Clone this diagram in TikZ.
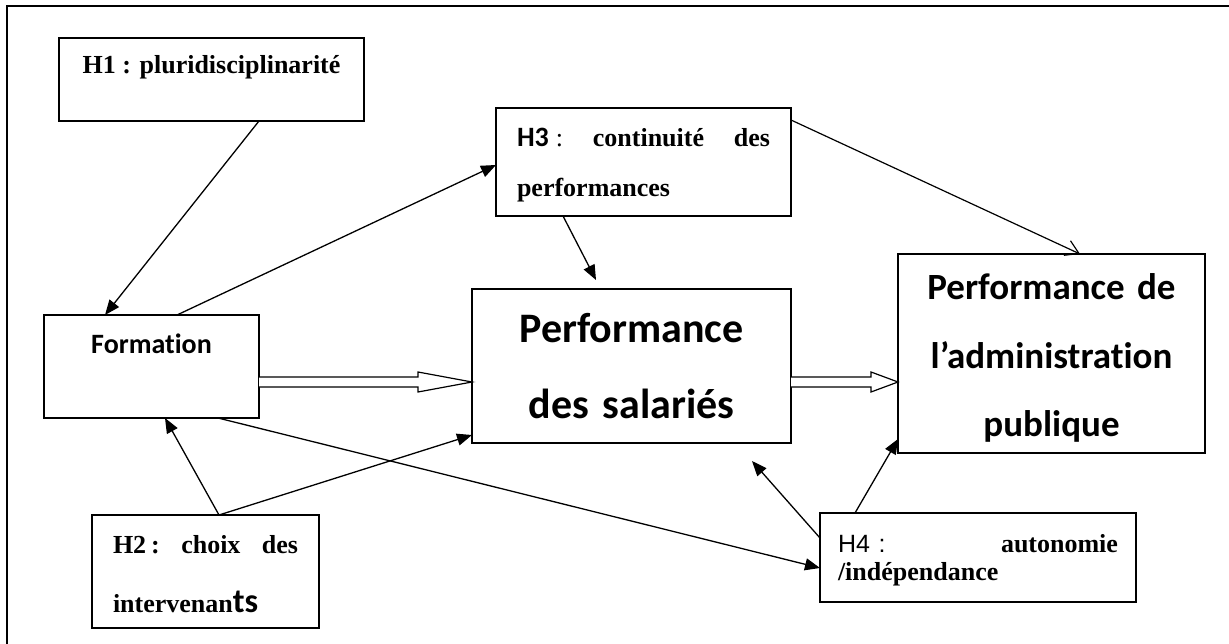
\documentclass[tikz,border=0pt]{standalone}
\usepackage{fontspec}
\setmainfont{Liberation Serif}
\newfontfamily\calibri[Ligatures=CommonOff]{Carlito}
\newfontfamily\arialf{Liberation Sans}
\usetikzlibrary{arrows.meta,calc}

\begin{document}
\begin{tikzpicture}[
  x=1pt,y=-1pt,
  box/.style={draw,line width=1.4pt,inner sep=0pt,outer sep=0pt},
  hyp/.style={box,font=\bfseries\fontsize{26}{#1}\selectfont},
  main/.style={box,align=center,font=\calibri\bfseries\fontsize{#1}{#1}\selectfont},
  arr/.style={line width=1.3pt,-{Triangle[length=15pt,width=12pt]}},
  barb/.style={line width=1.2pt,-{Straight Barb[length=13pt,width=16pt]}},
  hollow/.style={line width=1.2pt,fill=white,line join=miter}
]
\useasboundingbox (0,0) rectangle (1229,644);
\draw[line width=2pt] (1229,6) -- (7,6) -- (7,644);

\node[hyp=30,minimum width=305pt,text height=36pt,text depth=47pt]
  (h1) at (211.5,79.5) {H1 : pluridisciplinarité};
\node[hyp=50,text width=253pt,minimum width=295pt,align=left,
  text height=39pt,text depth=69pt] (h3) at (643.5,162)
  {\hbox to 253pt{{\calibri\fontsize{28}{50}\selectfont H3}\hspace{7pt}{\mdseries :}\hfill
  continuité\hfill des}\\performances};
\node[main=28,minimum width=215pt,text height=38pt,text depth=65pt]
  (form) at (151.5,366.5) {Formation};
\node[main=42,text width=319pt,text height=53pt,text depth=101pt,
  font=\calibri\bfseries\fontsize{42}{76}\selectfont]
  (sal) at (631.5,366) {Performance\\des salariés};
\node[main=37,text width=307pt,text height=46pt,text depth=153pt,
  font=\calibri\bfseries\fontsize{37}{68.5}\selectfont]
  (adm) at (1051.5,353.5) {Performance de\\l’administration\\publique};
\node[hyp=59,text width=185pt,minimum width=227pt,align=left,
  text height=38pt,text depth=75pt] (h2) at (205.5,571.5)
  {\hbox to 185pt{H2\hspace{5pt}:\hfill choix\hfill des}\\
  intervenan{\calibri\fontsize{34}{59}\selectfont ts}};
\node[hyp=28,text width=280pt,minimum width=316pt,align=left,
  text height=39pt,text depth=50pt] (h4) at (978,557.5)
  {\hbox to 280pt{{\arialf\mdseries\fontsize{25}{28}\selectfont H4 :}\hfill
  autonomie}\\/indépendance};

\draw[arr] ($(h1.south)+(47.5,0)$) -- ($(form.north)+(-46.5,0)$);
\draw[arr] ($(form.north)+(25.5,0)$) -- ($(h3.west)+(0,3)$);
\draw[arr] ($(h3.south)+(-80.5,0)$) -- ($(sal.north)+(-35.5,-9)$);
\draw[barb] ($(h3.north east)+(0,12)$) -- ($(adm.north)+(28.5,0)$);
\draw[arr] ($(form.south)+(66.5,0)$) -- ($(h4.west)+(0,10.5)$);
\draw[arr] ($(h2.north)+(13.5,0)$) -- ($(form.south)+(13.5,0)$);
\draw[arr] ($(h2.north)+(13.5,0)$) -- ($(sal.south west)+(0,-8)$);
\draw[arr] ($(h4.north west)+(0,25)$) -- ($(sal.south)+(120.5,18)$);
\draw[arr] ($(h4.north west)+(35,0)$) -- ($(adm.south west)+(0,-14)$);

\coordinate (d1s) at ($(form.east)+(0,15.5)$);
\coordinate (d1e) at (d1s -| sal.west);
\coordinate (d2s) at ($(sal.east)+(0,16)$);
\coordinate (d2e) at (d2s -| adm.west);
\foreach \s/\e/\h in {d1s/d1e/54,d2s/d2e/27}
  \draw[hollow] ($(\s)+(0,-5)$) -- ($(\e)+(-\h,-5)$) -- ($(\e)+(-\h,-10)$) --
    (\e) -- ($(\e)+(-\h,10)$) -- ($(\e)+(-\h,5)$) -- ($(\s)+(0,5)$);
\end{tikzpicture}
\end{document}
